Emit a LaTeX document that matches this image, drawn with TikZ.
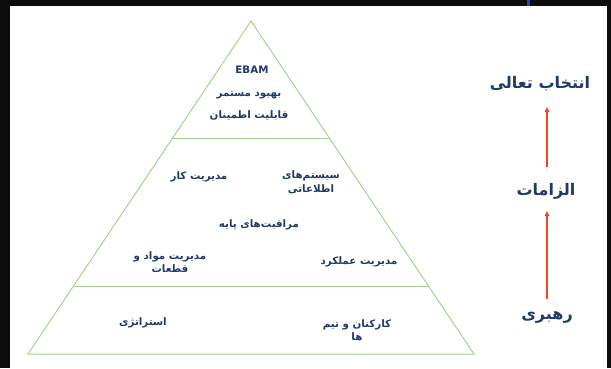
\documentclass[tikz,border=0pt]{standalone}
\usepackage{fontspec}
\usetikzlibrary{arrows.meta,calc}
\TeXXeTstate=1
\newfontfamily\fa[Script=Arabic]{DejaVu Sans}
\definecolor{txtc}{HTML}{1F3A68}
\definecolor{linec}{HTML}{A9D18E}
\definecolor{arrc}{HTML}{F4412E}
\definecolor{framec}{HTML}{0D0D0D}
\definecolor{bluec}{HTML}{2E3CD0}
\tikzset{
  pyr/.style={draw=linec, line width=1pt},
  intext/.style={text=txtc, font=\fa\bfseries\fontsize{10.3}{13.5}\selectfont, align=center, inner sep=0pt},
  sidetext/.style={text=txtc, font=\fa\bfseries\fontsize{16}{18}\selectfont, inner sep=0pt},
  uparrow/.style={draw=arrc, line width=1.6pt, -{Triangle[length=5pt,width=4.5pt]}},
}
\begin{document}
\begin{tikzpicture}[x=1pt,y=-1pt]
\useasboundingbox (0,0) rectangle (611,368);
% frame
\fill[framec] (0,0) rectangle (611,6);
\fill[framec] (0,0) rectangle (10,368);
\fill[framec] (607,0) rectangle (611,368);
\fill[bluec] (527,0) rectangle (529.5,6);
% pyramid
\coordinate (A) at (251,21);
\coordinate (BL) at (28,354);
\coordinate (BR) at (474,354);
\coordinate (L1) at ($(A)!{117/333}!(BL)$);
\coordinate (R1) at ($(A)!{117/333}!(BR)$);
\coordinate (L2) at ($(A)!{265/333}!(BL)$);
\coordinate (R2) at ($(A)!{265/333}!(BR)$);
\draw[pyr] (A) -- (BL) -- (BR) -- cycle;
\draw[pyr] (L1) -- (R1);
\draw[pyr] (L2) -- (R2);
% top texts
\node[intext] (ebam) at (252,70) {EBAM};
\node[intext] (behbud) at (249,95) {\beginR بهبود مستمر\endR};
\node[intext] (ghab) at (249,115) {\beginR قابلیت اطمینان\endR};
% middle texts
\node[intext] (karm) at (199,177) {\beginR مدیریت کار\endR};
\node[intext] (sys) at (311,182) {\beginR سیستم‌های\endR\\\beginR اطلاعاتی\endR};
\node[intext] (morag) at (259,225) {\beginR مراقبت‌های پایه\endR};
\node[intext] (mavad) at (170,262) {\beginR مدیریت مواد و\endR\\\beginR قطعات\endR};
\node[intext] (amal) at (359,262) {\beginR مدیریت عملکرد\endR};
% bottom texts
\node[intext] (estr) at (143,323) {\beginR استراتژی\endR};
\node[intext] (karkon) at (357,330) {\beginR کارکنان و تیم\endR\\\beginR ها\endR};
% side labels
\node[sidetext] (ent) at (540,84) {\beginR انتخاب تعالی\endR};
\node[sidetext] (elz) at (546,191) {\beginR الزامات\endR};
\node[sidetext] (rah) at (547,317) {\beginR رهبری\endR};
\coordinate (a1s) at (547,167);
\coordinate (a1e) at (547,107);
\coordinate (a2s) at (547,299);
\coordinate (a2e) at (547,211);
\draw[uparrow] (a1s) -- (a1e);
\draw[uparrow] (a2s) -- (a2e);
\end{tikzpicture}
\end{document}
